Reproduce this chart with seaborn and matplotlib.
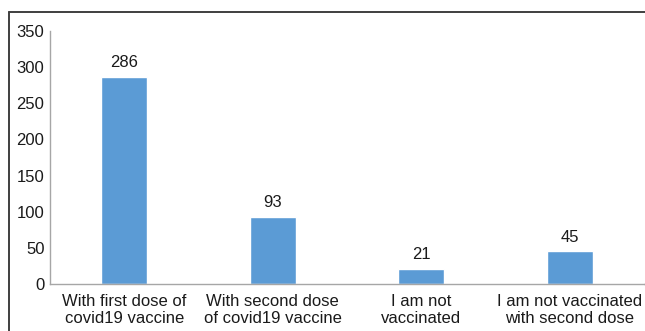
import matplotlib
matplotlib.use("Agg")
import matplotlib.pyplot as plt
import seaborn as sns
import pandas as pd
from matplotlib.lines import Line2D

categories = [
    "With first dose of\ncovid19 vaccine",
    "With second dose\nof covid19 vaccine",
    "I am not\nvaccinated",
    "I am not vaccinated\nwith second dose",
]
counts = [286, 93, 21, 45]
y_ticks = [0, 50, 100, 150, 200, 250, 300, 350]

sns.set_theme(style="white")
plt.rcParams["font.family"] = ["Liberation Sans", "DejaVu Sans"]

W, H = 645, 331
fig = plt.figure(figsize=(W / 100, H / 100), dpi=100)
ax = fig.add_axes([50 / W, 47 / H, 594 / W, (284 - 31) / H])

df = pd.DataFrame({"category": categories, "count": counts})
sns.barplot(data=df, x="category", y="count", color="#5B9BD5", width=0.31,
            saturation=1, ax=ax)

for i, v in enumerate(counts):
    ax.annotate(str(v), (i, v), xytext=(0, 5), textcoords="offset points",
                ha="center", va="bottom", fontsize=12, color="#1A1A1A")

ax.set_ylim(0, 350)
ax.set_xlim(-0.5, 3.5)
ax.set_yticks(y_ticks)
ax.set_xlabel("")
ax.set_ylabel("")
ax.tick_params(axis="both", length=0, labelsize=12, colors="#1A1A1A")
ax.tick_params(axis="y", pad=4)
ax.tick_params(axis="x", pad=7)

for s in ["top", "right"]:
    ax.spines[s].set_visible(False)
for s in ["left", "bottom"]:
    ax.spines[s].set_color("#A6A6A6")
    ax.spines[s].set_linewidth(1.0)

# extend the baseline to the right edge of the figure
fig.lines.append(Line2D([ax.get_position().x1, 1], [47 / H, 47 / H],
                        transform=fig.transFigure, color="#A6A6A6", linewidth=1.0))

# outer frame around the chart (left and top edges)
fx, fy = 8.5 / W, (H - 11.5) / H
fig.lines.append(Line2D([fx, fx], [0, fy], transform=fig.transFigure,
                        color="#3F3F3F", linewidth=1.4))
fig.lines.append(Line2D([fx, 1], [fy, fy], transform=fig.transFigure,
                        color="#3F3F3F", linewidth=1.4))

fig.savefig("out.png", dpi=100)
